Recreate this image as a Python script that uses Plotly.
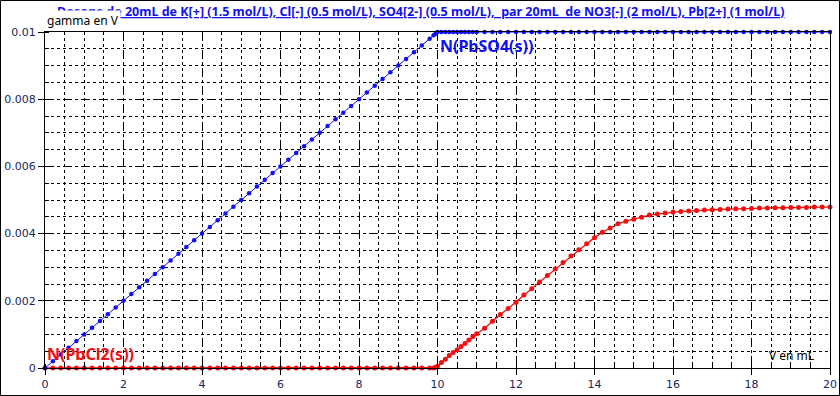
import plotly.graph_objects as go

V = [0.0, 0.2, 0.4, 0.6, 0.8, 1.0, 1.2, 1.4, 1.6, 1.8,
     2.0, 2.2, 2.4, 2.6, 2.8, 3.0, 3.2, 3.4, 3.6, 3.8,
     4.0, 4.2, 4.4, 4.6, 4.8, 5.0, 5.2, 5.4, 5.6, 5.8,
     6.0, 6.2, 6.4, 6.6, 6.8, 7.0, 7.2, 7.4, 7.6, 7.8,
     8.0, 8.2, 8.4, 8.6, 8.8, 9.0, 9.2, 9.4, 9.6, 9.8,
     9.9, 9.95, 10.0,
     10.1, 10.2, 10.3, 10.4, 10.5, 10.6, 10.7, 10.8, 10.9, 11.0,
     11.2, 11.4, 11.6, 11.8, 12.0, 12.2, 12.4, 12.6, 12.8, 13.0,
     13.2, 13.4, 13.6, 13.8, 14.0, 14.2, 14.4, 14.6, 14.8, 15.0,
     15.2, 15.4, 15.6, 15.8, 16.0, 16.2, 16.4, 16.6, 16.8, 17.0,
     17.2, 17.4, 17.6, 17.8, 18.0, 18.2, 18.4, 18.6, 18.8, 19.0,
     19.2, 19.4, 19.6, 19.8, 20.0]

N_PbSO4 = [0.0, 0.0002, 0.0004, 0.0006, 0.0008, 0.0010, 0.0012, 0.0014, 0.0016, 0.0018,
           0.0020, 0.0022, 0.0024, 0.0026, 0.0028, 0.0030, 0.0032, 0.0034, 0.0036, 0.0038,
           0.0040, 0.0042, 0.0044, 0.0046, 0.0048, 0.0050, 0.0052, 0.0054, 0.0056, 0.0058,
           0.0060, 0.0062, 0.0064, 0.0066, 0.0068, 0.0070, 0.0072, 0.0074, 0.0076, 0.0078,
           0.0080, 0.0082, 0.0084, 0.0086, 0.0088, 0.0090, 0.0092, 0.0094, 0.0096, 0.0098,
           0.0099, 0.00995, 0.0100,
           0.01, 0.01, 0.01, 0.01, 0.01, 0.01, 0.01, 0.01, 0.01, 0.01,
           0.01, 0.01, 0.01, 0.01, 0.01, 0.01, 0.01, 0.01, 0.01, 0.01,
           0.01, 0.01, 0.01, 0.01, 0.01, 0.01, 0.01, 0.01, 0.01, 0.01,
           0.01, 0.01, 0.01, 0.01, 0.01, 0.01, 0.01, 0.01, 0.01, 0.01,
           0.01, 0.01, 0.01, 0.01, 0.01, 0.01, 0.01, 0.01, 0.01, 0.01,
           0.01, 0.01, 0.01, 0.01, 0.01]

N_PbCl2 = [0.0, 0.0, 0.0, 0.0, 0.0, 0.0, 0.0, 0.0, 0.0, 0.0,
           0.0, 0.0, 0.0, 0.0, 0.0, 0.0, 0.0, 0.0, 0.0, 0.0,
           0.0, 0.0, 0.0, 0.0, 0.0, 0.0, 0.0, 0.0, 0.0, 0.0,
           0.0, 0.0, 0.0, 0.0, 0.0, 0.0, 0.0, 0.0, 0.0, 0.0,
           0.0, 0.0, 0.0, 0.0, 0.0, 0.0, 0.0, 0.0, 0.0, 0.0,
           0.0, 0.00002, 0.00005,
           0.00016, 0.00026, 0.00037, 0.00046, 0.00054, 0.00064, 0.00073, 0.00083, 0.00094, 0.00102,
           0.00118, 0.00139, 0.00159, 0.00177, 0.00196, 0.00217, 0.00236, 0.00256, 0.00275, 0.00295,
           0.00314, 0.00333, 0.00352, 0.00370, 0.00388, 0.00404, 0.00417, 0.00429, 0.00437, 0.00443,
           0.00449, 0.00455, 0.00458, 0.00461, 0.00464, 0.00466, 0.00467, 0.00469, 0.00470, 0.00471,
           0.00472, 0.00473, 0.00474, 0.00474, 0.00475, 0.00476, 0.00476, 0.00477, 0.00477, 0.00478,
           0.00478, 0.00478, 0.00479, 0.00479, 0.00479]

y_tickvals = [0, 0.002, 0.004, 0.006, 0.008, 0.01]
y_ticktext = ["0", "0.002", "0.004", "0.006", "0.008", "0.01"]
x_tickvals = [0, 2, 4, 6, 8, 10, 12, 14, 16, 18, 20]
x_ticktext = ["0", "2", "4", "6", "8", "10", "12", "14", "16", "18", "20"]

TITLE = ("Dosage de 20mL de K[+] (1.5 mol/L), Cl[-] (0.5 mol/L), SO4[2-] (0.5 mol/L),"
         "\u00a0 par 20mL \u00a0de NO3[-] (2 mol/L), Pb[2+] (1 mol/L)")

BLUE = "#1010f0"
RED = "#f01010"
TICKCOL = "#1a2560"

W, H = 840, 396
ML, MR, MT, MB = 45, 10, 32, 28
PW, PH = W - ML - MR, H - MT - MB

fig = go.Figure()
fig.add_trace(go.Scatter(x=V, y=N_PbCl2, mode="lines+markers",
                         line=dict(color=RED, width=1.3),
                         marker=dict(color=RED, size=5), cliponaxis=False,
                         name="N(PbCl2(s))"))
fig.add_trace(go.Scatter(x=V, y=N_PbSO4, mode="lines+markers",
                         line=dict(color=BLUE, width=1),
                         marker=dict(color=BLUE, size=4.5), cliponaxis=False,
                         name="N(PbSO4(s))"))

axis_common = dict(showline=True, linecolor="black", linewidth=1, mirror=True,
                   showgrid=True, gridcolor="black", gridwidth=1, griddash="dash",
                   zeroline=False, ticks="outside", ticklen=6, tickcolor="black",
                   automargin=False,
                   tickfont=dict(family="DejaVu Sans", size=11, color=TICKCOL))

fig.update_xaxes(range=[0, 20], tickmode="array", tickvals=x_tickvals, ticktext=x_ticktext,
                 minor=dict(dtick=0.5, showgrid=True, gridcolor="black", gridwidth=1,
                            griddash="dot", ticks="inside", ticklen=4, tickcolor="black"),
                 **axis_common)
fig.update_yaxes(range=[0, 0.01], tickmode="array", tickvals=y_tickvals, ticktext=y_ticktext,
                 minor=dict(dtick=0.0005, showgrid=True, gridcolor="black", gridwidth=1,
                            griddash="dot", ticks="inside", ticklen=4, tickcolor="black"),
                 **axis_common)

fig.update_layout(
    width=W, height=H, autosize=False,
    margin=dict(l=ML, r=MR, t=MT, b=MB, autoexpand=False),
    paper_bgcolor="white", plot_bgcolor="white", showlegend=False,
    font=dict(family="Noto Sans"),
)

# outer frame
fig.add_shape(type="rect", xref="paper", yref="paper",
              x0=-(ML - 0.5) / PW, x1=1 + (MR - 0.5) / PW,
              y0=-(MB - 0.5) / PH, y1=1 + (MT - 0.5) / PH,
              line=dict(color="black", width=1), fillcolor="rgba(0,0,0,0)", layer="above")

# title
fig.add_annotation(xref="paper", yref="paper", x=(421 - ML) / PW, y=1 + (MT - 11) / PH,
                   text="<b><u>" + TITLE + "</u></b>", showarrow=False,
                   xanchor="center", yanchor="middle",
                   font=dict(family="Noto Sans", size=12.5, color=BLUE))
# y label with white background (covers part of title, as in the original)
fig.add_annotation(xref="paper", yref="paper", x=0, y=1 + (MT - 21) / PH,
                   text="gamma en V", showarrow=False, xanchor="left", yanchor="middle",
                   bgcolor="white", borderpad=1,
                   font=dict(family="Noto Sans", size=12, color="black"))
# x label
fig.add_annotation(xref="paper", yref="paper", x=(816 - ML) / PW, y=(368 - 355) / PH,
                   text="V en mL", showarrow=False, xanchor="right", yanchor="middle",
                   font=dict(family="Noto Sans", size=12, color="black"))
# curve labels
fig.add_annotation(x=V[52], y=N_PbSO4[52], text="<b>N(PbSO4(s))</b>", showarrow=False,
                   xanchor="left", yanchor="top", yshift=-1,
                   font=dict(family="Noto Sans", size=16, color=BLUE))
fig.add_annotation(x=V[0], y=N_PbCl2[0], text="<b>N(PbCl2(s))</b>", showarrow=False,
                   xanchor="left", yanchor="bottom", yshift=1,
                   font=dict(family="Noto Sans", size=16, color=RED))

fig.write_html("out.html", config={"displayModeBar": False},
               post_script="document.body.style.margin='0';document.body.style.overflow='hidden';")
